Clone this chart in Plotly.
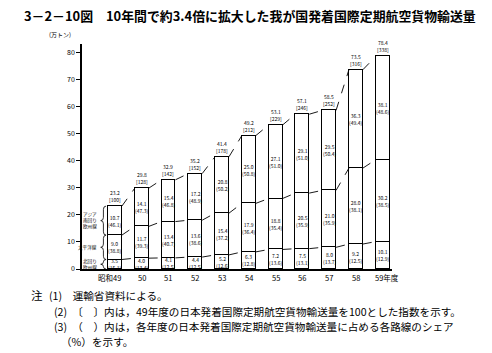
import plotly.graph_objects as go

years = ["昭和49", "50", "51", "52", "53", "54", "55", "56", "57", "58", "59年度"]
# 北回り欧州線, 太平洋線, アジア・南回り欧州線 (万トン)
north_europe = [3.5, 4.0, 4.1, 4.4, 5.2, 6.3, 7.2, 7.5, 8.0, 9.2, 10.1]
pacific = [9.0, 11.7, 13.4, 13.6, 15.4, 17.9, 18.8, 20.5, 21.0, 28.0, 30.2]
asia_south = [10.7, 14.1, 15.4, 17.2, 20.8, 25.0, 27.1, 29.1, 29.5, 36.3, 38.1]
totals = [23.2, 29.8, 32.9, 35.2, 41.4, 49.2, 53.1, 57.1, 58.5, 73.5, 78.4]
index_49 = [100, 128, 142, 152, 178, 212, 229, 246, 252, 316, 338]
share_north = [15.1, 13.4, 12.5, 12.5, 12.6, 12.8, 13.6, 13.1, 13.7, 12.5, 12.9]
share_pacific = [38.8, 39.3, 40.7, 38.6, 37.2, 36.4, 35.4, 35.9, 35.9, 38.1, 38.5]
share_asia = [46.1, 47.3, 46.8, 48.9, 50.2, 50.8, 51.0, 51.0, 50.4, 49.4, 48.6]
route_names = ["北回り<br>欧州線", "太平洋線", "アジア<br>南回り<br>欧州線"]
y_ticks = [0, 10, 20, 30, 40, 50, 60, 70, 80]

FONT = "Noto Sans CJK JP"
W, H = 492, 353
ML, MR, MT, MB = 82, 100, 44, 84
PW, PH = W - ML - MR, H - MT - MB
XR = [-1.23, 10.35]
YR = [0, 83]
BW = 0.52

def px(x):
    return (x - ML) / PW

def py(y):
    return (H - MB - y) / PH

xs = list(range(len(years)))
fig = go.Figure()
for vals in (north_europe, pacific, asia_south):
    fig.add_trace(go.Bar(x=xs, y=vals, width=BW,
                         marker=dict(color="white", line=dict(color="black", width=1.4)),
                         showlegend=False, hoverinfo="skip"))

# dashed connectors between cumulative levels
c1 = north_europe
c2 = [a + b for a, b in zip(north_europe, pacific)]
c3 = [a + b + c for a, b, c in zip(north_europe, pacific, asia_south)]
for lev in (c1, c2, c3):
    lx, ly = [], []
    for i in range(len(xs) - 1):
        lx += [xs[i] + BW / 2, xs[i + 1] - BW / 2, None]
        ly += [lev[i], lev[i + 1], None]
    fig.add_trace(go.Scatter(x=lx, y=ly, mode="lines",
                             line=dict(color="black", width=0.9, dash="dash"),
                             showlegend=False, hoverinfo="skip"))

ann = []
small = dict(family=FONT, size=5, color="black")
for i in xs:
    base = 0
    for vals, shares in ((north_europe, share_north), (pacific, share_pacific), (asia_south, share_asia)):
        v = vals[i]
        ann.append(dict(x=i, y=base + v / 2, xref="x", yref="y", yanchor="middle",
                        text=f"{v:.1f}<br>({shares[i]:.1f})", showarrow=False,
                        font=small, align="center"))
        base += v
    ann.append(dict(x=i, y=totals[i], xref="x", yref="y", yanchor="bottom", yshift=1,
                    text=f"{totals[i]:.1f}<br>[{index_49[i]}]", showarrow=False,
                    font=small, align="center"))

# x category labels
lab_font = dict(family=FONT, size=7.5, color="black")
for i, lab in enumerate(years):
    if i == 0:
        ann.append(dict(x=i + 0.3, y=0, xref="x", yref="y", xanchor="right", yanchor="top",
                        yshift=-1, text=lab, showarrow=False, font=lab_font))
    elif i == len(years) - 1:
        ann.append(dict(x=i - 0.36, y=0, xref="x", yref="y", xanchor="left", yanchor="top",
                        yshift=-1, text=lab, showarrow=False, font=lab_font))
    else:
        ann.append(dict(x=i, y=0, xref="x", yref="y", xanchor="center", yanchor="top",
                        yshift=-1, text=lab, showarrow=False, font=lab_font))

# braces and route labels beside first bar
shapes = []
bounds = [(0, c1[0]), (c1[0], c2[0]), (c2[0], c3[0])]
xo, xsp, xt = -0.33, -0.43, -0.53
for (y0, y1), name in zip(bounds, route_names):
    ym = (y0 + y1) / 2
    d = min(1.2, (y1 - y0) / 4)
    path = (f"M {xo},{y0} Q {xsp},{y0} {xsp},{y0 + d} L {xsp},{ym - d} "
            f"Q {xsp},{ym} {xt},{ym} Q {xsp},{ym} {xsp},{ym + d} "
            f"L {xsp},{y1 - d} Q {xsp},{y1} {xo},{y1}")
    shapes.append(dict(type="path", path=path, xref="x", yref="y",
                       line=dict(color="black", width=0.8)))
    ann.append(dict(x=xt - 0.05, y=ym, xref="x", yref="y", xanchor="right", yanchor="middle",
                    text=name, showarrow=False, font=dict(family=FONT, size=4.6), align="center"))

# title, unit, notes
ann.append(dict(x=px(22), y=py(15), xref="paper", yref="paper", xanchor="left", yanchor="middle",
                text="3－2－10図　10年間で約3.4倍に拡大した我が国発着国際定期航空貨物輸送量",
                showarrow=False, font=dict(family=FONT, size=12.9, color="black", weight=600)))
ann.append(dict(x=px(60), y=py(35), xref="paper", yref="paper", xanchor="center", yanchor="middle",
                text="(万トン)", showarrow=False, font=dict(family=FONT, size=6, color="black")))
notes = [
    (29, 295, "注", 11.5),
    (47, 295, "(1)　運輸省資料による。", 10.6),
    (52, 311, "(2)　〔　〕内は，49年度の日本発着国際定期航空貨物輸送量を100とした指数を示す。", 10.6),
    (52, 326, "(3)　（　）内は，各年度の日本発着国際定期航空貨物輸送量に占める各路線のシェア", 10.6),
    (59, 341, "（%）を示す。", 10.6),
]
for x0, y0, t, fs in notes:
    ann.append(dict(x=px(x0), y=py(y0), xref="paper", yref="paper", xanchor="left", yanchor="middle",
                    text=t, showarrow=False, font=dict(family=FONT, size=fs, color="black")))

fig.update_layout(
    width=W, height=H, barmode="stack", bargap=0,
    margin=dict(l=ML, r=MR, t=MT, b=MB),
    paper_bgcolor="white", plot_bgcolor="white",
    font=dict(family=FONT, color="black"),
    annotations=ann, shapes=shapes,
    xaxis=dict(range=XR, showticklabels=False, showgrid=False, zeroline=False,
               showline=True, linecolor="black", linewidth=1.5, ticks=""),
    yaxis=dict(range=YR, tickvals=y_ticks, showgrid=False, zeroline=False,
               showline=True, linecolor="black", linewidth=1.5, ticks="outside",
               ticklen=4, tickwidth=1, tickcolor="black",
               tickfont=dict(family=FONT, size=7, color="black")),
)
fig.write_html("out.html")
